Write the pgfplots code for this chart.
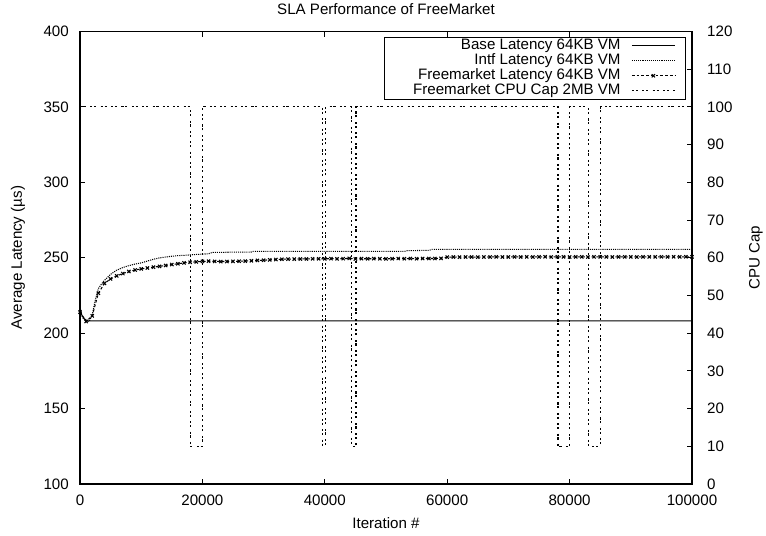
\documentclass[border=0pt]{standalone}
\usepackage{pgfplots}
\pgfplotsset{compat=1.18}
\usepackage{fontspec}
\setmainfont{Liberation Sans}
\pgfplotsset{
  common/.style={
    scale only axis, width=12.24cm, height=9.05cm,
    at={(0,0)}, anchor=south west,
    xmin=0, xmax=100000,
    tick align=inside, major tick length=0.1cm,
    font=\fontsize{8.6}{10}\selectfont,
    /pgf/number format/assume math mode=true,
    scaled x ticks=false, scaled y ticks=false,
    xticklabel style={/pgf/number format/fixed, /pgf/number format/1000 sep={}, yshift=-0.1cm},
    yticklabel style={/pgf/number format/fixed, /pgf/number format/1000 sep={}},
    axis line style={line width=0.6pt},
    every tick/.style={line width=0.6pt, black},
  }
}
\begin{document}
\begin{tikzpicture}
\useasboundingbox (-1.6,-1.02) rectangle (13.72,9.68);
% CPU cap axis (right)
\begin{axis}[common,
  hide x axis,
  axis y line*=right,
  ymin=0, ymax=120, ytick={0,10,...,120},
  ytick pos=right,
  yticklabel style={xshift=0.18cm},
  ylabel={CPU Cap},
  every axis y label/.style={at={(axis description cs:1,0.5)}, xshift=1.28cm, rotate=90, anchor=center},
]
\addplot[black, line width=0.6pt, dash pattern=on 1.2pt off 1pt on 1.2pt off 2.5pt] coordinates {
(0,100) (18100,100) (18100,10) (20000,10) (20000,100)
(39700,100) (39700,10) (40100,10) (40100,100)
(44300,100) (44300,10) (45100,10) (45100,100)
(78100,100) (78100,10) (80000,10) (80000,100)
(83050,100) (83050,10) (85050,10) (85050,100)
(100000,100)
};
\end{axis}
% Latency axis (left)
\begin{axis}[common,
  ymin=100, ymax=400, ytick={100,150,...,400},
  xtick={0,20000,...,100000},
  ytick pos=left, xtick pos=both,
  yticklabel style={xshift=-0.1cm},
  title={SLA Performance of FreeMarket},
  every axis title/.style={at={(axis description cs:0.5,1)}, yshift=0.44cm, anchor=center},
  xlabel={Iteration \#},
  every axis x label/.style={at={(axis description cs:0.5,0)}, yshift=-0.78cm, anchor=center},
  ylabel={Average Latency (µs)},
  every axis y label/.style={at={(axis description cs:0,0.5)}, xshift=-1.24cm, rotate=90, anchor=center},
  legend cell align=right, legend plot pos=right,
  legend style={at={(axis description cs:1,1)}, xshift=-0.12cm, yshift=-0.11cm, anchor=north east,
    draw=black, line width=0.6pt, fill=white, inner xsep=0.2cm, inner ysep=0.5pt,
    column sep=0.19cm,
    nodes={inner sep=0.75pt, text height=5.6pt, text depth=1.4pt},
    font=\fontsize{8.6}{10}\selectfont},
  legend image code/.code={\draw[mark repeat=2,mark phase=2,#1] plot coordinates {(0cm,0cm) (0.43cm,0cm) (0.86cm,0cm)};},
]
\addplot[black, line width=0.6pt] coordinates {
(0,217) (300,212) (700,209.5) (1200,208.2) (100000,208.2)
};
\addlegendentry{\makebox[4.49cm][r]{Base Latency 64KB VM}}
\addplot[black, line width=0.6pt, dash pattern=on 0.6pt off 0.6pt] coordinates {
(0,214) (500,210) (1000,207.8) (1500,207.9) (2000,212) (2500,222) (3000,229.5)
(3500,232.5) (4000,235) (5000,239) (6000,241.8) (7000,243.5) (8000,244.8)
(9000,245.8) (10000,246.6) (11000,247.8) (12000,249) (13000,249.9) (14000,250.5)
(15000,251) (16000,251.4) (17000,251.6) (18000,251.9) (19000,252.2) (20000,252.4)
(21000,252.6) (21600,253.5) (25000,253.7) (28000,253.8) (28300,254.2) (53000,254.2)
(53500,254.7) (57000,254.9) (57500,255.5) (100000,255.6)
};
\addlegendentry{\makebox[4.49cm][r]{Intf Latency 64KB VM}}
\addplot[black, line width=0.6pt, dash pattern=on 1.5pt off 1.2pt, mark=x, mark size=1.3pt, mark options={solid}] coordinates {
(0,214) (1000,207.8) (2000,211.5) (3000,226.5) (4000,233) (5000,236) (6000,238)
(7000,239.5) (8000,240.9) (9000,241.9) (10000,242.6) (11000,243.2) (12000,243.8)
(13000,244.3) (14000,244.9) (15000,245.5) (16000,246) (17000,246.6) (18000,247)
(19000,247.3) (20000,247.6) (21000,247.7) (22000,247.6) (23000,247.5) (24000,247.5)
(25000,247.6) (26000,247.7) (27000,247.8) (28000,248) (29000,248.2) (30000,248.4)
(31000,248.6) (32000,248.8) (33000,249) (34000,249.1) (35000,249.1) (36000,249.2)
(37000,249.2) (38000,249.3) (39000,249.3) (40000,249.3) (41000,249.4) (42000,249.3)
(43000,249.4) (44000,249.6) (45000,249.2) (46000,249.4) (47000,249.3) (48000,249.4)
(49000,249.4) (50000,249.3) (51000,249.4) (52000,249.5) (53000,249.4) (54000,249.5)
(55000,249.4) (56000,249.5) (57000,249.5) (58000,249.5) (59000,249.6) (60000,250.4)
(61000,250.5) (62000,250.4) (63000,250.5) (64000,250.5) (65000,250.4) (66000,250.5)
(67000,250.5) (68000,250.6) (69000,250.5) (70000,250.5) (71000,250.6) (72000,250.5)
(73000,250.6) (74000,250.5) (75000,250.6) (76000,250.6) (77000,250.5) (78000,250.6)
(79000,250.6) (80000,250.5) (81000,250.6) (82000,250.6) (83000,250.5) (84000,250.6)
(85000,250.6) (86000,250.6) (87000,250.5) (88000,250.6) (89000,250.6) (90000,250.6)
(91000,250.5) (92000,250.6) (93000,250.6) (94000,250.6) (95000,250.6) (96000,250.6)
(97000,250.6) (98000,250.6) (99000,250.6) (100000,250.6)
};
\addlegendentry{\makebox[4.49cm][r]{Freemarket Latency 64KB VM}}
\addlegendimage{black, line width=0.6pt, dash pattern=on 1.2pt off 1pt on 1.2pt off 2.5pt}
\addlegendentry{\makebox[4.49cm][r]{Freemarket CPU Cap 2MB VM}}
\end{axis}
\end{tikzpicture}
\end{document}
